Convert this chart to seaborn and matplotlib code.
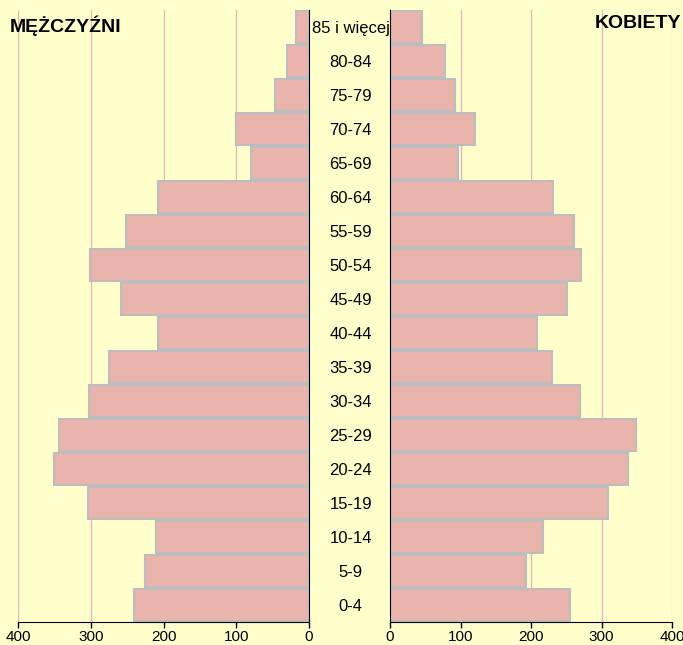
import matplotlib
matplotlib.use("Agg")
import matplotlib.pyplot as plt
import seaborn as sns
import pandas as pd

groups = ['85 i więcej', '80-84', '75-79', '70-74', '65-69', '60-64', '55-59',
          '50-54', '45-49', '40-44', '35-39', '30-34', '25-29', '20-24',
          '15-19', '10-14', '5-9', '0-4']
men = [18, 30, 47, 100, 80, 208, 252, 301, 259, 208, 275, 303, 343, 350,
       304, 210, 226, 241]
women = [45, 78, 92, 120, 96, 231, 261, 271, 251, 208, 230, 269, 349, 338,
         309, 217, 193, 255]
ticks = [0, 100, 200, 300, 400]

df = pd.DataFrame({'grupa': groups, 'M': men, 'K': women})

sns.set_style("white")
plt.rcParams['font.family'] = ['Liberation Sans', 'DejaVu Sans']
plt.rcParams['text.color'] = 'black'
plt.rcParams['xtick.color'] = 'black'
plt.rcParams['ytick.color'] = 'black'
plt.rcParams['xtick.labelcolor'] = 'black'
plt.rcParams['ytick.labelcolor'] = 'black'

bg = '#FFFFCC'
bar_color = '#E8B4AC'
edge = '#BDBDBD'
grid = '#E8B0B8'

fig = plt.figure(figsize=(6.83, 6.45), dpi=100, facecolor=bg)
W, H = 683, 645
bottom = (645 - 622) / H
height = (622 - 10) / H
ax_l = fig.add_axes([18 / W, bottom, (309 - 18) / W, height])
ax_r = fig.add_axes([390 / W, bottom, (672 - 390) / W, height])

for ax, col in [(ax_l, 'M'), (ax_r, 'K')]:
    ax.set_facecolor(bg)
    sns.barplot(data=df, y='grupa', x=col, orient='h', ax=ax, color=bar_color,
                edgecolor=edge, linewidth=1.5, width=0.92, saturation=1)
    ax.set_xlim(0, 400)
    ax.set_xticks(ticks)
    ax.set_xticklabels([str(t) for t in ticks], fontsize=11)
    for t in ticks:
        ax.axvline(t, color=grid, lw=0.9, zorder=0)
    ax.set_axisbelow(True)
    ax.set_xlabel('')
    ax.set_ylabel('')
    ax.set_ylim(len(groups) - 0.5, -0.5)
    for s in ax.spines.values():
        s.set_visible(False)
    ax.spines['bottom'].set_visible(True)
    ax.spines['bottom'].set_color('black')
    ax.tick_params(axis='x', direction='out', length=4, width=1, color='black',
                   bottom=True, pad=2, labelsize=11)

ax_l.invert_xaxis()
ax_l.spines['right'].set_visible(True)
ax_l.spines['right'].set_color('black')
ax_l.yaxis.tick_right()
ax_l.tick_params(axis='y', length=0, pad=30)
for lab in ax_l.get_yticklabels():
    lab.set_ha('center')
    lab.set_fontsize(12)

ax_r.spines['left'].set_visible(True)
ax_r.spines['left'].set_color('black')
ax_r.set_yticks([])

fig.text(10 / W, 1 - 26 / H, 'MĘŻCZYŹNI', fontsize=14, fontweight='bold',
         va='center', ha='left')
fig.text(681 / W, 1 - 24 / H, 'KOBIETY', fontsize=14, fontweight='bold',
         va='center', ha='right')

fig.savefig('out.png', dpi=100, facecolor=bg)
